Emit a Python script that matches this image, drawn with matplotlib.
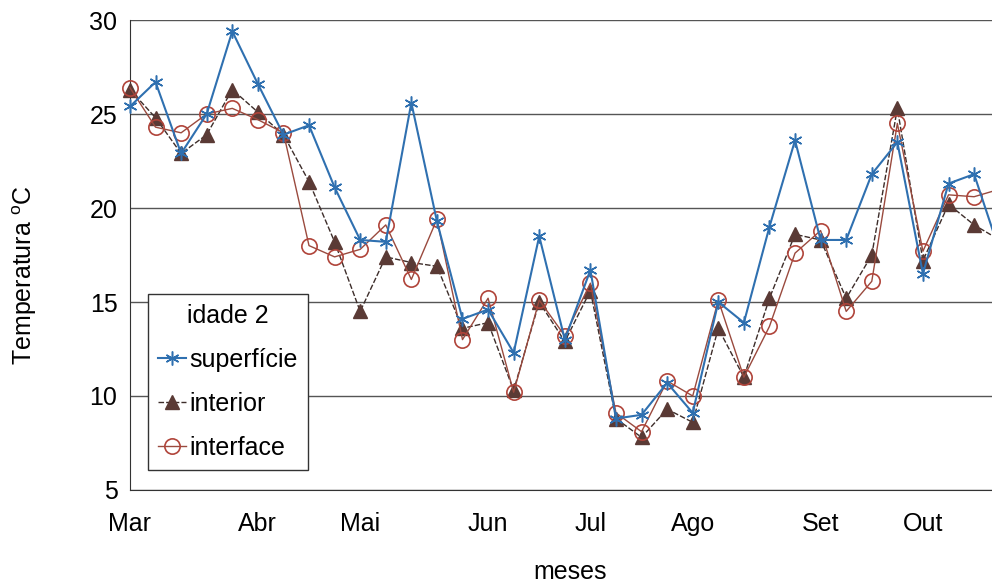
import matplotlib
matplotlib.use("Agg")
import matplotlib.pyplot as plt

plt.rcParams["font.family"] = ["Liberation Sans", "DejaVu Sans"]
plt.rcParams["mathtext.fontset"] = "custom"
plt.rcParams["mathtext.rm"] = "Liberation Sans"

# weekly readings, Mar .. Out
semanas = list(range(35))
superficie = [25.4, 26.7, 22.9, 25.0, 29.4, 26.6, 23.9, 24.4, 21.1, 18.3,
              18.2, 25.6, 19.3, 14.1, 14.6, 12.3, 18.5, 13.0, 16.7, 8.8,
              9.0, 10.7, 9.1, 15.0, 13.9, 19.0, 23.6, 18.3, 18.3, 21.8,
              23.5, 16.5, 21.3, 21.8, 17.7]
interior = [26.3, 24.8, 22.9, 23.9, 26.3, 25.1, 23.9, 21.4, 18.2, 14.5,
            17.4, 17.1, 16.9, 13.6, 13.9, 10.3, 15.0, 12.9, 15.6, 8.8,
            7.8, 9.3, 8.6, 13.6, 11.0, 15.2, 18.6, 18.3, 15.2, 17.5,
            25.3, 17.2, 20.2, 19.1, 18.3]
interface = [26.4, 24.3, 24.0, 25.0, 25.3, 24.7, 24.0, 18.0, 17.4, 17.8,
             19.1, 16.2, 19.4, 13.0, 15.2, 10.2, 15.1, 13.2, 16.0, 9.1,
             8.1, 10.8, 10.0, 15.1, 11.0, 13.7, 17.6, 18.8, 14.5, 16.1,
             24.5, 17.7, 20.7, 20.6, 21.0]

meses = ["Mar", "Abr", "Mai", "Jun", "Jul", "Ago", "Set", "Out"]
meses_pos = [0, 5, 9, 14, 18, 22, 27, 31]

fig = plt.figure(figsize=(9.92, 5.85), dpi=100)
ax = fig.add_axes([0.131, 0.1624, 0.869, 0.8034])

ax.plot(semanas, superficie, color="#2f70b0", lw=1.5, marker=(6, 2, 0),
        ms=10, mew=1.1, label="superfície", clip_on=False, zorder=4)
ax.plot(semanas, interior, color="#3d2d2a", lw=1.0, ls=(0, (4, 1.5)),
        marker="^", ms=9.5, mfc="#5a3a35", mec="#5a3a35",
        label="interior", clip_on=False, zorder=3)
ax.plot(semanas, interface, color="#9a4a3e", lw=1.0, marker="o", ms=11,
        mfc="none", mec="#b0443a", mew=1.2, label="interface",
        clip_on=False, zorder=3)

ax.set_xlim(0, 33.7)
ax.set_ylim(5, 30)
ax.set_yticks([5, 10, 15, 20, 25, 30])
ax.set_xticks(meses_pos)
ax.set_xticklabels(meses)
ax.tick_params(axis="both", length=0, labelsize=18)
ax.tick_params(axis="x", pad=16)
ax.tick_params(axis="y", pad=9)

ax.grid(axis="y", color="#555555", lw=1.0)
ax.set_axisbelow(True)
for side in ["top", "right"]:
    ax.spines[side].set_visible(False)
ax.spines["left"].set_color("#333333")
ax.spines["bottom"].set_color("#333333")

ax.set_ylabel("Temperatura $^{\\mathrm{o}}$C", fontsize=18)
ax.yaxis.set_label_coords(-0.105, 0.457)
ax.set_xlabel("meses", fontsize=18)
ax.xaxis.set_label_coords(0.51, -0.15)

leg = ax.legend(title="idade 2", loc="lower left", bbox_to_anchor=(0.021, 0.043),
                borderaxespad=0, fontsize=18, title_fontsize=18,
                handlelength=1.1, handletextpad=0.15, labelspacing=0.8,
                borderpad=0.4, fancybox=False, framealpha=1, edgecolor="#333333")
leg.get_frame().set_linewidth(1.0)

fig.savefig("out.png", dpi=100)
